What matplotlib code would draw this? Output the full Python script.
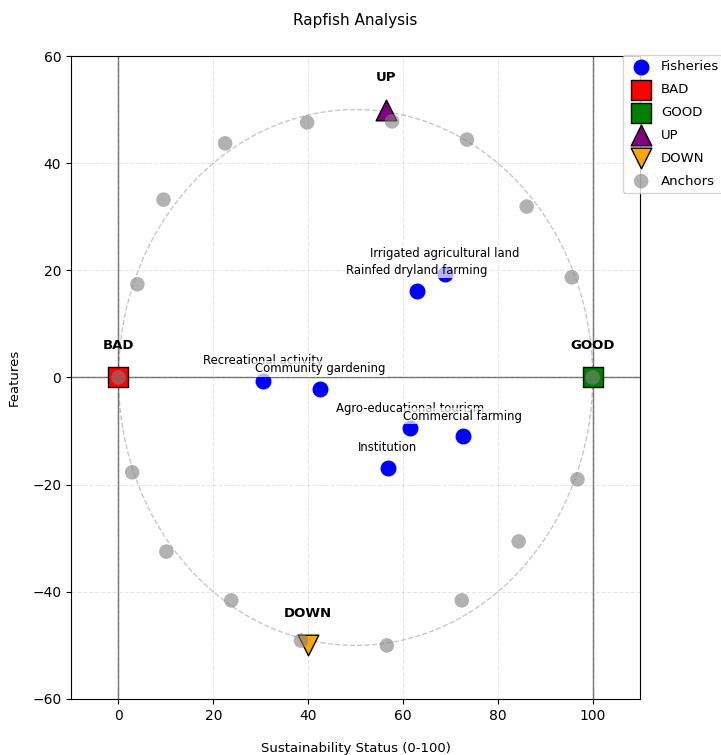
import numpy as np
import matplotlib
matplotlib.use("Agg")
import matplotlib.pyplot as plt

# fisheries (x = sustainability status, y = features)
fish_names = [
    "Irrigated agricultural land",
    "Rainfed dryland farming",
    "Recreational activity",
    "Community gardening",
    "Agro-educational tourism",
    "Commercial farming",
    "Institution",
]
fish_x = [68.8, 62.9, 30.5, 42.5, 61.5, 72.6, 56.8]
fish_y = [19.4, 16.2, -0.6, -2.2, -9.5, -11.0, -16.8]

# reference points
ref_names = ["BAD", "GOOD", "UP", "DOWN"]
ref_x = [0, 100, 56.5, 40]
ref_y = [0, 0, 50, -50]

# anchor scatter
anchor_x = [0, 100, 22.5, 39.8, 57.7, 73.5, 86.1, 9.5, 4.0, 95.6,
            2.9, 10.1, 23.8, 38.5, 56.6, 72.4, 84.4, 96.8]
anchor_y = [0, 0, 43.7, 47.6, 47.8, 44.4, 31.9, 33.2, 17.4, 18.7,
            -17.7, -32.5, -41.6, -49.1, -50.0, -41.6, -30.6, -19.0]

fig = plt.figure(figsize=(7.21, 7.55), dpi=100)
ax = fig.add_axes([0.0985, 0.0742, 0.7892, 0.8516])

# reference ellipse
t = np.linspace(0, 2 * np.pi, 300)
ax.plot(50 + 50 * np.cos(t), 50 * np.sin(t), "--", color="#c8c8c8", linewidth=1, zorder=1)

ax.axhline(0, color="black", alpha=0.6, linewidth=1, zorder=1)
ax.axvline(0, color="black", alpha=0.6, linewidth=1, zorder=1)
ax.axvline(100, color="black", alpha=0.6, linewidth=1, zorder=1)

ax.scatter(fish_x, fish_y, s=110, color="blue", label="Fisheries", zorder=3)
for name, x, y in zip(fish_names, fish_x, fish_y):
    ax.annotate(name, (x, y), xytext=(0, 10), textcoords="offset points",
                ha="center", va="bottom", fontsize=8.4,
                bbox=dict(facecolor="white", alpha=0.7, edgecolor="none", pad=1),
                zorder=4)

markers = ["s", "s", "^", "v"]
colors = ["red", "green", "purple", "orange"]
for name, x, y, m, c in zip(ref_names, ref_x, ref_y, markers, colors):
    ax.scatter([x], [y], s=220, marker=m, color=c, edgecolor="black",
               linewidth=1, label=name, zorder=3)
    ax.text(x, y + 6, name, ha="center", va="center", fontsize=9.5,
            fontweight="bold", zorder=4)

ax.scatter(anchor_x, anchor_y, s=110, color="gray", alpha=0.6,
           edgecolor="none", label="Anchors", zorder=5)

ax.set_xlim(-10, 110)
ax.set_ylim(-60, 60)
ax.set_xticks([0, 20, 40, 60, 80, 100])
ax.set_yticks([-60, -40, -20, 0, 20, 40, 60])
ax.grid(True, linestyle="--", alpha=0.3)
ax.set_title("Rapfish Analysis", fontsize=11, pad=22)
ax.set_xlabel("Sustainability Status (0-100)", fontsize=9.5, labelpad=14)
ax.set_ylabel("Features", fontsize=9.5, labelpad=8)
ax.legend(loc="upper left", bbox_to_anchor=(0.958, 1.012), fontsize=9.5,
          labelspacing=0.75, handletextpad=0.5)

fig.savefig("out.png", dpi=100)
